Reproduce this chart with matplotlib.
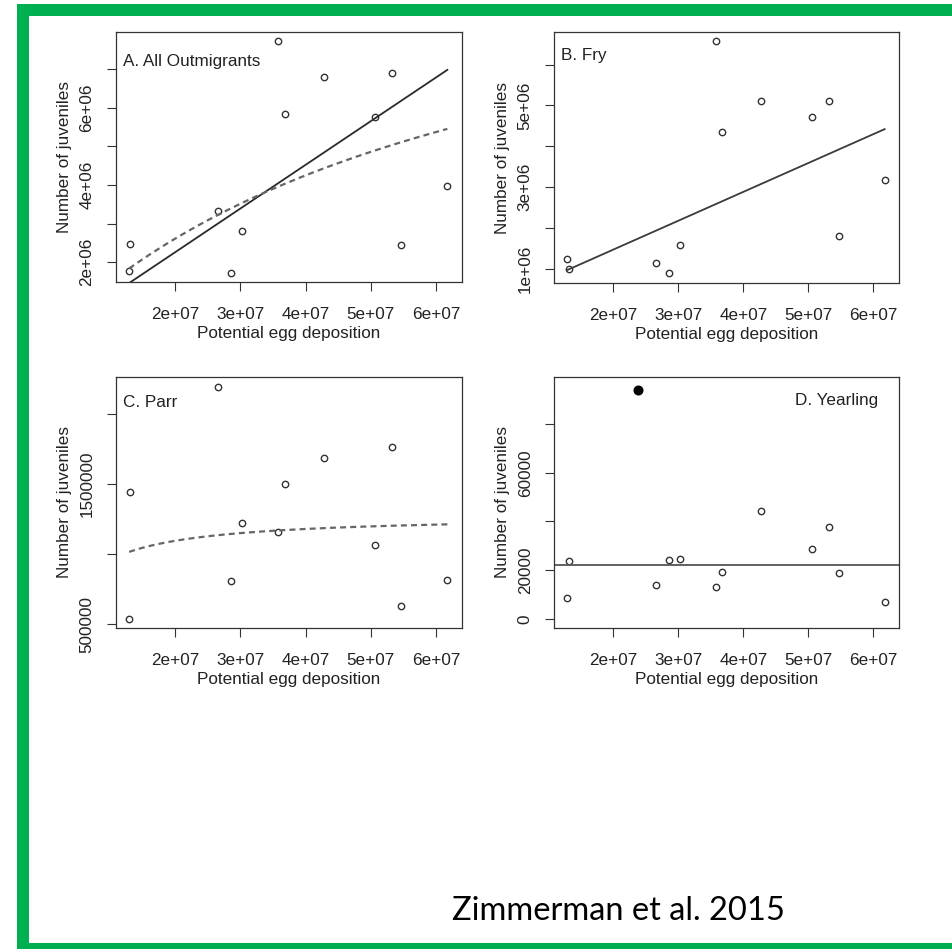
import numpy as np
import matplotlib
matplotlib.use("Agg")
import matplotlib.pyplot as plt
from matplotlib.patches import Rectangle

plt.rcParams['font.family'] = ['Liberation Sans', 'DejaVu Sans']
plt.rcParams['lines.scale_dashes'] = False

# dane
egg = [1.295e7, 1.315e7, 2.65e7, 2.86e7, 3.025e7, 3.58e7, 3.68e7, 4.28e7, 5.06e7, 5.32e7, 5.465e7, 6.175e7]
all_out = [1.78e6, 2.47e6, 3.33e6, 1.73e6, 2.82e6, 7.73e6, 5.84e6, 6.80e6, 5.76e6, 6.89e6, 2.45e6, 3.98e6]
fry = [1.24e6, 1.00e6, 1.15e6, 0.91e6, 1.58e6, 6.58e6, 4.36e6, 5.12e6, 4.71e6, 5.12e6, 1.81e6, 3.18e6]
parr = [0.538e6, 1.445e6, 2.196e6, 0.809e6, 1.221e6, 1.159e6, 1.498e6, 1.688e6, 1.064e6, 1.762e6, 0.626e6, 0.812e6]
yearling = [8740, 23790, 14080, 24200, 24480, 12990, 19150, 44430, 28590, 37740, 18740, 7100]
yearling_outlier_x = [2.38e7]
yearling_outlier_y = [93950]

# parametry dopasowanych krzywych
a_linear = 0.113                  # All: y = b*x
a_bh, b_bh = 0.1695, 1.49e-8      # All: Beverton-Holt
fry_slope, fry_icpt = 0.0706, 6.2e4
c_bh, d_bh = 0.382, 2.99e-7       # Parr: Beverton-Holt

xticks = [2e7, 3e7, 4e7, 5e7, 6e7]
xticklabels = ['2e+07', '3e+07', '4e+07', '5e+07', '6e+07']
yt_a = [2e6, 3e6, 4e6, 5e6, 6e6, 7e6]
yl_a = ['2e+06', '', '4e+06', '', '6e+06', '']
yt_b = [1e6, 2e6, 3e6, 4e6, 5e6, 6e6]
yl_b = ['1e+06', '', '3e+06', '', '5e+06', '']
yt_c = [5e5, 1e6, 1.5e6, 2e6]
yl_c = ['500000', '', '1500000', '']
yt_d = [0, 20000, 40000, 60000, 80000]
yl_d = ['0', '20000', '', '60000', '']

W, H = 953, 949
fig = plt.figure(figsize=(W / 100, H / 100), dpi=100)

txt = '#222222'
fs = 12.3


def make_ax(l, r, t, b):
    ax = fig.add_axes([l / W, 1 - b / H, (r - l) / W, (b - t) / H])
    for s in ax.spines.values():
        s.set_color('#333333')
        s.set_linewidth(0.9)
    ax.tick_params(direction='out', length=6.5, width=0.8, color='#333333',
                   labelsize=fs, labelcolor=txt, pad=9)
    ax.tick_params(axis='x', pad=11.5)
    ax.set_xlim(1.093e7, 6.40e7)
    ax.set_xticks(xticks)
    ax.set_xticklabels(xticklabels)
    ax.set_xlabel('Potential egg deposition', fontsize=fs, color=txt)
    ax.set_ylabel('Number of juveniles', fontsize=fs, color=txt)
    ax.xaxis.set_label_coords(0.5, -44 / (b - t), transform=ax.transAxes)
    ax.yaxis.set_label_coords(-44 / (r - l), 0.5, transform=ax.transAxes)
    return ax


def points(ax, x, y):
    ax.plot(x, y, 'o', ms=4.6, mfc='none', mec='#333333', mew=1.0, ls='none')


xx = np.linspace(min(egg), max(egg), 200)

# A
ax = make_ax(116, 462, 32.3, 282)
ax.set_ylim(1.49e6, 7.95e6)
ax.set_yticks(yt_a)
ax.set_yticklabels(yl_a, rotation=90, va='center')
points(ax, egg, all_out)
ax.plot(xx, a_linear * xx, color='#2a2a2a', lw=1.3)
ax.plot(xx, a_bh * xx / (1 + b_bh * xx), color='#666666', lw=1.6, dashes=(4.3, 3.0))
ax.text(0.021, 0.866, 'A. All Outmigrants', transform=ax.transAxes, fontsize=fs, color=txt)

# B
ax = make_ax(554.3, 899.3, 32.3, 283.3)
ax.set_ylim(0.65e6, 6.79e6)
ax.set_yticks(yt_b)
ax.set_yticklabels(yl_b, rotation=90, va='center')
points(ax, egg, fry)
ax.plot(xx, fry_slope * xx + fry_icpt, color='#3a3a3a', lw=1.3)
ax.text(0.019, 0.890, 'B. Fry', transform=ax.transAxes, fontsize=fs, color=txt)

# C
ax = make_ax(116, 462, 377.3, 627.7)
ax.set_ylim(0.474e6, 2.262e6)
ax.set_yticks(yt_c)
ax.set_yticklabels(yl_c, rotation=90, va='center')
points(ax, egg, parr)
ax.plot(xx, c_bh * xx / (1 + d_bh * xx), color='#666666', lw=1.6, dashes=(4.3, 3.0))
ax.text(0.019, 0.883, 'C. Parr', transform=ax.transAxes, fontsize=fs, color=txt)

# D
ax = make_ax(554.3, 899.3, 377.3, 627.7)
ax.set_ylim(-3570, 99160)
ax.set_yticks(yt_d)
ax.set_yticklabels(yl_d, rotation=90, va='center')
points(ax, egg, yearling)
ax.plot(yearling_outlier_x, yearling_outlier_y, 'o', ms=6.2, color='black')
ax.axhline(np.mean(yearling), color='#555555', lw=1.3)
ax.text(0.939, 0.891, 'D. Yearling', transform=ax.transAxes, fontsize=fs, color=txt, ha='right')

# zielona ramka
green = '#00B050'
for (x0, y0, x1, y1) in [(17, 4, 29, 949), (17, 4, 953, 16), (17, 943.3, 953, 955)]:
    fig.patches.append(Rectangle((x0 / W, 1 - y1 / H), (x1 - x0) / W, (y1 - y0) / H,
                                 transform=fig.transFigure, color=green, lw=0))

fig.text(451.7 / W, 1 - 920 / H, 'Zimmerman et al. 2015', fontsize=23.5, family='Lato',
         color='black', va='baseline', ha='left')

fig.savefig('out.png', dpi=100)
